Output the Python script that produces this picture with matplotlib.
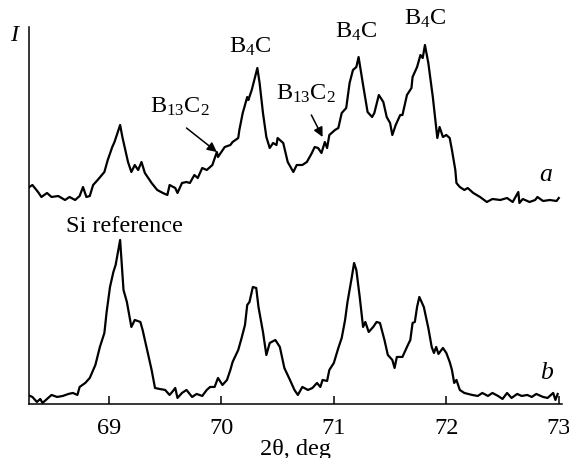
import matplotlib
matplotlib.use("Agg")
import matplotlib.pyplot as plt

plt.rcParams['font.family'] = ['Liberation Serif', 'DejaVu Serif']
plt.rcParams['mathtext.fontset'] = 'custom'
plt.rcParams['mathtext.rm'] = 'Liberation Serif'
plt.rcParams['mathtext.it'] = 'Liberation Serif:italic'

# sample a (upper trace), 2theta in deg and intensity in arb. units
two_theta_a = [68.28, 68.32, 68.37, 68.40, 68.45, 68.49, 68.55, 68.58, 68.61, 68.65,
               68.70, 68.74, 68.77, 68.80, 68.83, 68.86, 68.90, 68.96, 68.99, 69.03,
               69.05, 69.10, 69.12, 69.17, 69.20, 69.23, 69.26, 69.29, 69.32, 69.38,
               69.43, 69.48, 69.52, 69.54, 69.59, 69.61, 69.65, 69.69, 69.72, 69.76,
               69.79, 69.83, 69.87, 69.92, 69.96, 69.97, 70.03, 70.08, 70.10, 70.15,
               70.16, 70.19, 70.23, 70.24, 70.27, 70.32, 70.34, 70.37, 70.40, 70.43,
               70.46, 70.49, 70.50, 70.55, 70.59, 70.64, 70.67, 70.72, 70.76, 70.80,
               70.83, 70.86, 70.89, 70.92, 70.94, 70.96, 71.01, 71.04, 71.07, 71.11,
               71.14, 71.17, 71.20, 71.22, 71.26, 71.30, 71.34, 71.36, 71.40, 71.44,
               71.47, 71.50, 71.52, 71.55, 71.59, 71.61, 71.65, 71.69, 71.70, 71.74,
               71.77, 71.79, 71.81, 71.84, 71.88, 71.92, 71.94, 71.97, 72.00, 72.03,
               72.05, 72.07, 72.08, 72.09, 72.12, 72.16, 72.19, 72.24, 72.30, 72.36,
               72.41, 72.48, 72.54, 72.59, 72.64, 72.65, 72.68, 72.74, 72.79, 72.81,
               72.86, 72.92, 72.98, 73.00]
intensity_a = [216, 219, 212, 207, 211, 207, 208, 206, 204, 207,
               204, 208, 217, 207, 208, 219, 224, 232, 244, 257,
               262, 279, 267, 242, 232, 239, 234, 242, 231, 221,
               214, 211, 209, 219, 216, 211, 221, 222, 221, 229,
               226, 236, 234, 239, 252, 247, 257, 259, 262, 266,
               274, 291, 307, 304, 314, 336, 321, 291, 267, 256,
               261, 259, 266, 261, 242, 232, 239, 239, 242, 250,
               257, 256, 251, 262, 256, 269, 274, 276, 291, 296,
               321, 334, 337, 347, 319, 292, 287, 291, 309, 302,
               287, 281, 269, 279, 289, 289, 309, 316, 327, 337,
               349, 346, 359, 341, 307, 266, 277, 267, 269, 266,
               254, 241, 234, 221, 217, 214, 216, 211, 207, 202,
               205, 204, 206, 202, 212, 201, 205, 202, 204, 207,
               203, 204, 203, 206]

# Si reference sample b (lower trace)
two_theta_b = [68.28, 68.32, 68.36, 68.39, 68.41, 68.46, 68.49, 68.54, 68.59, 68.64,
               68.68, 68.72, 68.74, 68.79, 68.83, 68.88, 68.92, 68.96, 68.98, 69.01,
               69.04, 69.06, 69.10, 69.13, 69.16, 69.20, 69.23, 69.28, 69.30, 69.35,
               69.38, 69.41, 69.45, 69.50, 69.54, 69.57, 69.59, 69.61, 69.65, 69.69,
               69.74, 69.78, 69.83, 69.87, 69.90, 69.94, 69.97, 70.01, 70.05, 70.08,
               70.10, 70.15, 70.18, 70.21, 70.23, 70.25, 70.28, 70.31, 70.33, 70.37,
               70.40, 70.43, 70.48, 70.52, 70.56, 70.61, 70.65, 70.68, 70.72, 70.77,
               70.81, 70.85, 70.88, 70.90, 70.94, 70.96, 71.00, 71.04, 71.07, 71.10,
               71.12, 71.16, 71.18, 71.20, 71.23, 71.26, 71.28, 71.31, 71.35, 71.38,
               71.41, 71.45, 71.48, 71.52, 71.54, 71.56, 71.61, 71.65, 71.68, 71.70,
               71.72, 71.74, 71.76, 71.80, 71.84, 71.87, 71.89, 71.91, 71.93, 71.97,
               72.00, 72.03, 72.05, 72.07, 72.09, 72.12, 72.16, 72.23, 72.28, 72.32,
               72.37, 72.41, 72.46, 72.50, 72.54, 72.58, 72.63, 72.67, 72.72, 72.76,
               72.80, 72.86, 72.90, 72.95, 72.97, 72.99]
intensity_b = [9, 7, 2, 5, 1, 6, 9, 7, 8, 10,
               11, 9, 17, 21, 26, 39, 57, 71, 92, 117,
               132, 139, 164, 114, 102, 77, 84, 82, 74, 49,
               34, 16, 15, 14, 9, 13, 16, 6, 11, 14,
               7, 10, 8, 14, 17, 17, 26, 19, 24, 34,
               42, 54, 66, 79, 99, 102, 117, 116, 97, 72,
               49, 61, 64, 57, 36, 24, 14, 9, 17, 14,
               16, 21, 17, 24, 23, 34, 41, 56, 66, 84,
               101, 127, 141, 134, 107, 77, 82, 72, 77, 82,
               81, 64, 49, 44, 36, 47, 47, 57, 64, 81,
               82, 97, 107, 97, 76, 57, 51, 57, 50, 56,
               51, 42, 34, 21, 24, 14, 11, 9, 8, 11,
               8, 11, 8, 5, 11, 6, 10, 8, 9, 7,
               10, 7, 6, 11, 4, 10]

fig = plt.figure(figsize=(5.69, 4.58), dpi=100)
ax = fig.add_axes([0.051, 0.118, 0.937, 0.823])

ax.plot(two_theta_a, intensity_a, color='black', lw=1.6)
ax.plot(two_theta_b, intensity_b, color='black', lw=1.6)

ax.set_xlim(68.29, 73.03)
ax.set_ylim(0, 377)
ax.set_xticks([69, 70, 71, 72, 73])
ax.set_yticks([])
for side in ['top', 'right']:
    ax.spines[side].set_visible(False)
for side in ['left', 'bottom']:
    ax.spines[side].set_linewidth(1.1)
ax.tick_params(axis='x', direction='in', length=6, width=1.1, pad=10, labelsize=17.5)

fs = 17.5
ax.set_xlabel(r'2θ, deg', fontsize=fs, labelpad=0)
ax.text(68.16, 369, 'I', fontsize=fs, style='italic', ha='center', va='center', clip_on=False)

ax.text(70.26, 351, r'B$_4$C', fontsize=fs, ha='center', va='baseline')
ax.text(71.20, 366, r'B$_4$C', fontsize=fs, ha='center', va='baseline')
ax.text(71.81, 379, r'B$_4$C', fontsize=fs, ha='center', va='baseline', clip_on=False)
ax.text(69.63, 291, r'B$_{13}$C$_2$', fontsize=fs, ha='center', va='baseline')
ax.text(70.75, 304, r'B$_{13}$C$_2$', fontsize=fs, ha='center', va='baseline')
ax.text(69.14, 172, 'Si reference', fontsize=fs, ha='center', va='baseline')
ax.text(72.88, 229, 'a', fontsize=fs + 1, style='italic', ha='center', va='center')
ax.text(72.89, 31, 'b', fontsize=fs + 1, style='italic', ha='center', va='center')

arrow = dict(arrowstyle='-|>', color='black', lw=1.1, mutation_scale=14, shrinkA=0, shrinkB=0)
ax.annotate('', xy=(69.96, 252), xytext=(69.69, 276), arrowprops=arrow)
ax.annotate('', xy=(70.90, 267), xytext=(70.80, 289), arrowprops=arrow)

fig.savefig('out.png', dpi=100)
